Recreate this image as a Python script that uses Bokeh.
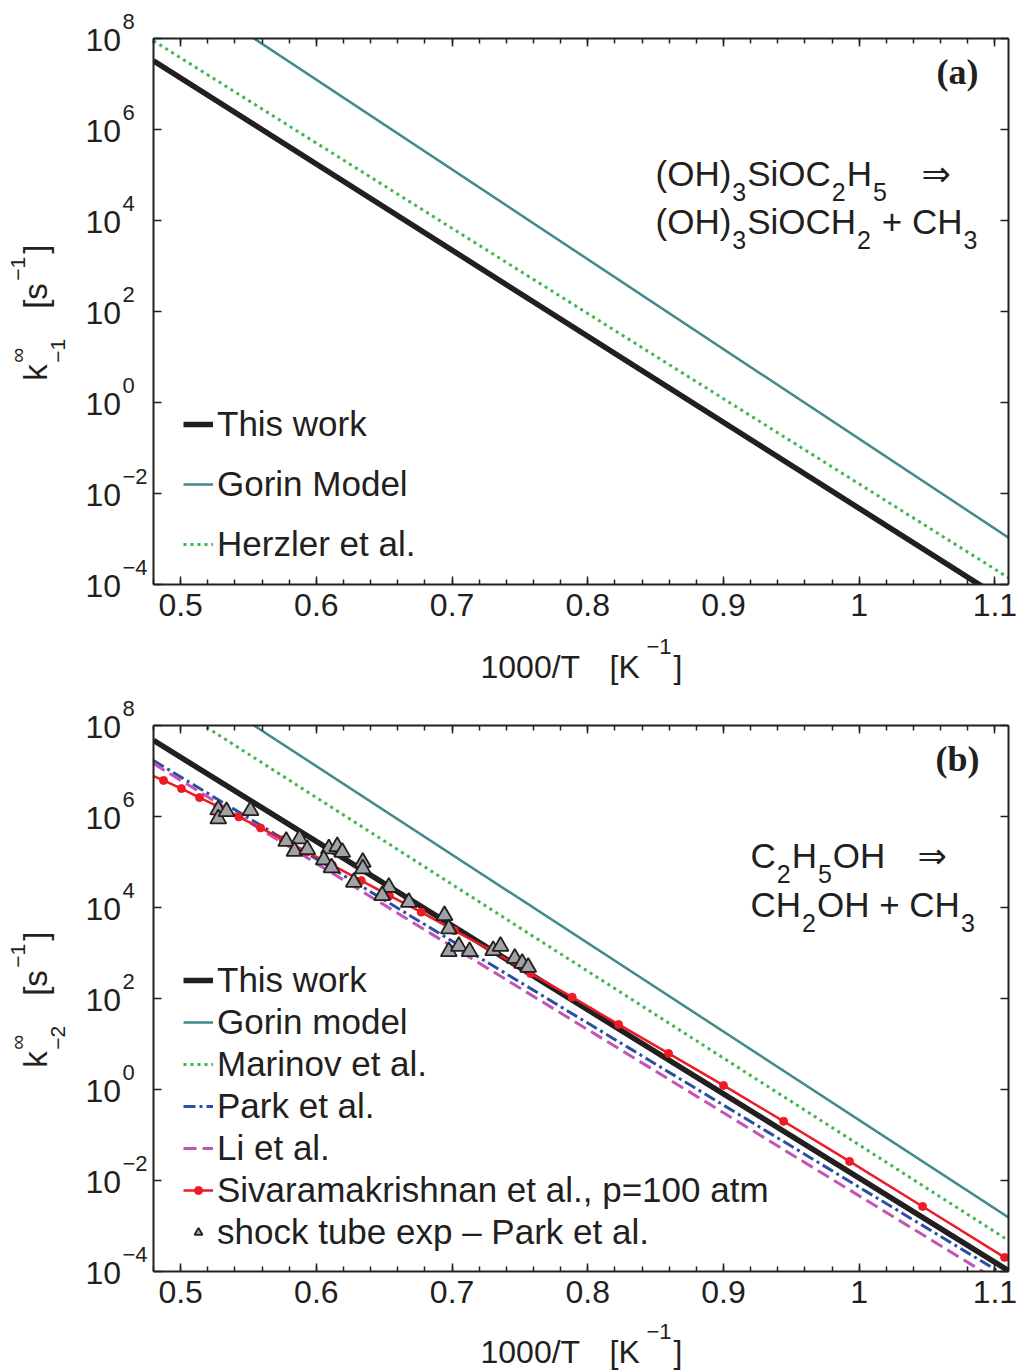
from bokeh.plotting import figure
from bokeh.models import (Range1d, FixedTicker, LinearAxis, LogAxis, Label, Legend,
                          LegendItem, CustomJSTickFormatter)
from bokeh.layouts import column, row
from bokeh.embed import file_html
from bokeh.resources import INLINE

# ---------------- data ----------------
line_x = [0.48, 1.11]                      # 1000/T  [1/K], ends of the straight fits

# panel (a): (OH)3SiOC2H5 -> (OH)3SiOCH2 + CH3
a_this_work = [3.24e7, 3.9e-5]
a_gorin = [2.9e9, 1.07e-3]
a_herzler = [8.9e7, 1.41e-4]

# panel (b): C2H5OH -> CH2OH + CH3
b_this_work = [4.7e7, 1.04e-4]
b_gorin = [2.75e9, 1.55e-3]
b_marinov = [5.1e8, 4.8e-4]
b_park = [1.7e7, 7.4e-5]
b_li = [1.45e7, 4.5e-5]

siva_x = [0.4741, 0.4874, 0.5006, 0.5139, 0.5274, 0.5429, 0.5589, 0.5755, 0.5932,
          0.6118, 0.6331, 0.6539, 0.6773, 0.7018, 0.7283, 0.7578, 0.7885, 0.8227,
          0.8595, 0.9000, 0.9443, 0.9929, 1.0467, 1.1071]
siva_k = [9.3e6, 6.2e6, 4.1e6, 2.6e6, 1.66e6, 9.8e5, 5.6e5, 3.1e5, 1.66e5,
          8.5e4, 3.9e4, 1.82e4, 7.9e3, 3.1e3, 1.17e3, 355, 107, 26.9,
          6.2, 1.23, 0.20, 0.0263, 2.69e-3, 2.04e-4]

shock_x = [0.5277, 0.5277, 0.5338, 0.5515, 0.5778, 0.5876, 0.5839, 0.5933, 0.6092,
           0.6154, 0.6191, 0.6055, 0.6112, 0.6342, 0.6342, 0.6276, 0.6534, 0.6485,
           0.6681, 0.6944, 0.6976, 0.6976, 0.7050, 0.7129, 0.7303, 0.7357, 0.7462,
           0.7517, 0.7561]
shock_k = [1.40e6, 8.9e5, 1.29e6, 1.36e6, 2.86e5, 3.24e5, 1.73e5, 1.88e5, 1.95e5,
           2.19e5, 1.64e5, 1.12e5, 7.5e4, 9.9e4, 7.1e4, 3.6e4, 2.79e4, 1.84e4,
           1.31e4, 6.7e3, 3.4e3, 1.08e3, 1.41e3, 1.08e3, 1.14e3, 1.41e3, 769,
           597, 488]

x_ticks = [0.5, 0.6, 0.7, 0.8, 0.9, 1.0, 1.1]
x_minor = [round(0.48 + 0.02 * i, 2) for i in range(32)]
y_tick_exps = [-4, -2, 0, 2, 4, 6, 8]

# ---------------- styling / geometry ----------------
INK = "#231f20"
FONT = "Liberation Sans"
W = 1017
STRIP_W = 149            # left text strip
MAIN_W = W - STRIP_W
FRAME_L, FRAME_W, FRAME_H = 153, 855, 546   # page coordinates of the plot frame
XMIN, XMAX = 0.48, 1.11
LMIN, LMAX = -4, 8
BASE_K = 0.36            # label anchor -> alphabetic baseline correction (em)

AW = {' ': 278, '(': 333, ')': 333, 'O': 778, 'H': 722, 'S': 667, 'i': 222, 'C': 722,
      '+': 584, '/': 278, 'T': 611, '[': 278, ']': 278, 'K': 667, 's': 500, 'k': 500,
      '\u2212': 584}
for d in "0123456789":
    AW[d] = 556


def tw(s, size):
    return sum(AW.get(c, 556) for c in s) / 1000.0 * size


def label(p, x, y, text, size, font=FONT, style="normal", angle=0, align="left"):
    p.add_layout(Label(x=x, y=y, text=text, text_font=font,
                       text_font_size=f"{size}px", text_color=INK,
                       text_font_style=style, angle=angle, angle_units="deg",
                       text_align=align, text_baseline="alphabetic"))


def put_frame(p, ftop, px, py, text, size, **kw):
    """text whose baseline starts at page pixel (px, py), inside a plot frame"""
    py = py - BASE_K * size
    x = XMIN + (px - FRAME_L) / FRAME_W * (XMAX - XMIN)
    y = 10 ** (LMAX - (py - ftop) / FRAME_H * (LMAX - LMIN))
    label(p, x, y, text, size, **kw)


def put_strip(s, x0, y0, px, py, text, size, angle=0, **kw):
    """text in a pixel-unit strip figure whose top-left sits at page (x0, y0)"""
    if angle == 90:
        px = px - BASE_K * size
    else:
        py = py - BASE_K * size
    label(s, px - x0, py - y0, text, size, angle=angle, **kw)


def rich(p, ftop, px, py, segs, main=35, script=25, sub_dy=14, pad=2):
    x = px
    for txt, kind in segs:
        if kind == "n":
            lead = len(txt) - len(txt.lstrip(" "))
            x += tw(" " * lead, main)
            txt = txt.strip(" ")
            put_frame(p, ftop, x, py, txt, main)
            x += tw(txt, main)
        else:
            put_frame(p, ftop, x + 1, py + sub_dy, txt, script)
            x += tw(txt, script) + pad
    return x


def strip(w, h):
    s = figure(width=w, height=h, x_range=Range1d(0, w), y_range=Range1d(h, 0),
               x_axis_location=None, y_axis_location=None,
               output_backend="svg", toolbar_location=None,
               min_border=0, min_border_left=0, min_border_right=0,
               min_border_top=0, min_border_bottom=0)
    try:
        s.frame_align = False
    except Exception:
        pass
    s.outline_line_color = None
    s.grid.visible = False
    s.background_fill_color = "white"
    s.border_fill_color = "white"
    return s


def style_axis(ax, ticker, labels=False):
    ax.ticker = ticker
    ax.axis_line_color = INK
    ax.axis_line_width = 2
    ax.major_tick_line_color = INK
    ax.major_tick_line_width = 1.5
    ax.minor_tick_line_color = INK
    ax.minor_tick_line_width = 1.5
    ax.major_tick_in = 8
    ax.major_tick_out = 0
    ax.minor_tick_in = 5
    ax.minor_tick_out = 0
    if labels:
        ax.formatter = CustomJSTickFormatter(code="return (Math.round(tick*10)/10).toString();")
        ax.major_label_text_font = FONT
        ax.major_label_text_font_size = "32px"
        ax.major_label_text_color = INK
        ax.major_label_standoff = 9
    else:
        ax.formatter = CustomJSTickFormatter(code="return '';")
        ax.major_label_standoff = 0
        ax.major_label_text_font_size = "1px"


def make_panel(height, top):
    p = figure(width=MAIN_W, height=height, x_range=Range1d(XMIN, XMAX),
               y_range=Range1d(10.0 ** LMIN, 10.0 ** LMAX), y_axis_type="log",
               x_axis_location=None, y_axis_location=None,
               output_backend="svg", toolbar_location=None,
               min_border_left=FRAME_L - STRIP_W, min_border_right=W - FRAME_L - FRAME_W,
               min_border_top=top, min_border_bottom=height - top - FRAME_H)
    p.outline_line_color = None
    p.background_fill_color = "white"
    p.border_fill_color = "white"
    p.grid.visible = False
    xt = FixedTicker(ticks=x_ticks, minor_ticks=x_minor)
    yt = FixedTicker(ticks=[10.0 ** e for e in y_tick_exps], minor_ticks=[])
    bx = LinearAxis(); style_axis(bx, xt, labels=True); p.add_layout(bx, "below")
    tx = LinearAxis(); style_axis(tx, xt); p.add_layout(tx, "above")
    ly = LogAxis(); style_axis(ly, yt); p.add_layout(ly, "left")
    ry = LogAxis(); style_axis(ry, yt); p.add_layout(ry, "right")
    return p


def left_strip(h, y0, ftop, sub):
    s = strip(STRIP_W, h)
    # y tick labels 10^n
    for e in y_tick_exps:
        py = ftop + (LMAX - e) / (LMAX - LMIN) * FRAME_H
        put_strip(s, 0, y0, 85, py + 13.5, "10", 32)
        put_strip(s, 0, y0, 122, py - 9, str(e).replace("-", "\u2212"), 22)
    # rotated axis label  k^inf_{-n} [s^-1]
    cy = ftop + FRAME_H / 2
    yk = cy + 69.3
    put_strip(s, 0, y0, 47, yk, "k", 33, angle=90)
    put_strip(s, 0, y0, 25, yk - 18, "\u221e", 21, angle=90)
    put_strip(s, 0, y0, 65, yk - 18, sub, 21, angle=90)
    put_strip(s, 0, y0, 47, yk - 72, "[s", 33, angle=90)
    put_strip(s, 0, y0, 25, yk - 100, "\u22121", 21, angle=90)
    put_strip(s, 0, y0, 47, yk - 127, "]", 33, angle=90)
    return s


def x_strip(h, y0, base):
    s = strip(W, h)
    cx = FRAME_L + FRAME_W / 2
    put_strip(s, 0, y0, cx - 100.5, base, "1000/T", 32)
    put_strip(s, 0, y0, cx + 28.5, base, "[K", 32)
    put_strip(s, 0, y0, cx + 65.5, base - 24, "\u22121", 22)
    put_strip(s, 0, y0, cx + 92.5, base, "]", 32)
    return s


def legend(p, items, spacing, y):
    leg = Legend(items=items, location=(30, y), label_text_font=FONT,
                 label_text_font_size="35px", label_text_color=INK,
                 glyph_width=30, glyph_height=20, label_height=40, label_standoff=4,
                 spacing=spacing, padding=0, margin=0, border_line_color=None,
                 background_fill_alpha=0)
    p.add_layout(leg)


TEAL = "#418a89"
GREEN = "#3cb84f"
BLUE = "#2d4fa3"
MAGENTA = "#c254b5"
RED = "#ed1c24"
TRI = "#a0a2a6"

# ---------------- panel (a) ----------------
HA, TOP_A = 632, 38
XA_H = 58
pa = make_panel(HA, TOP_A)
ra1 = pa.line(line_x, a_this_work, line_color=INK, line_width=5.5)
ra2 = pa.line(line_x, a_gorin, line_color=TEAL, line_width=2.5)
ra3 = pa.line(line_x, a_herzler, line_color=GREEN, line_width=3, line_dash="3 4")
legend(pa, [LegendItem(label="This work", renderers=[ra1]),
            LegendItem(label="Gorin Model", renderers=[ra2]),
            LegendItem(label="Herzler et al.", renderers=[ra3])], 20, 20)
put_frame(pa, TOP_A, 957, 84, "(a)", 36, font="Liberation Serif", style="bold", align="center")
rich(pa, TOP_A, 655, 186, [("(OH)", "n"), ("3", "s"), ("SiOC", "n"), ("2", "s"),
                           ("H", "n"), ("5", "s")])
put_frame(pa, TOP_A, 921, 186, "\u21d2", 35, font="DejaVu Sans")
rich(pa, TOP_A, 655, 234, [("(OH)", "n"), ("3", "s"), ("SiOCH", "n"), ("2", "s"),
                           (" + CH", "n"), ("3", "s")])
la = left_strip(HA, 0, TOP_A, "\u22121")
xa = x_strip(XA_H, HA, 678)

# ---------------- panel (b) ----------------
Y_B = HA + XA_H             # 690
HB, TOP_B = 627, 35
FT_B = Y_B + TOP_B          # page y of frame top (725)
pb = make_panel(HB, TOP_B)
rb1 = pb.line(line_x, b_this_work, line_color=INK, line_width=5.5)
rb2 = pb.line(line_x, b_gorin, line_color=TEAL, line_width=2.5)
rb3 = pb.line(line_x, b_marinov, line_color=GREEN, line_width=3, line_dash="3 4")
rb4 = pb.line(line_x, b_park, line_color=BLUE, line_width=3, line_dash="12 4 3 4")
rb5 = pb.line(line_x, b_li, line_color=MAGENTA, line_width=3, line_dash="13 6")
rb6 = pb.line(siva_x, siva_k, line_color=RED, line_width=2.5)
rb6m = pb.scatter(siva_x, siva_k, marker="circle", size=8, fill_color=RED, line_color=RED)
rb7 = pb.scatter(shock_x, shock_k, marker="triangle", size=16, fill_color=TRI,
                 line_color=INK, line_width=1.8)
legend(pb, [LegendItem(label="This work", renderers=[rb1]),
            LegendItem(label="Gorin model", renderers=[rb2]),
            LegendItem(label="Marinov et al.", renderers=[rb3]),
            LegendItem(label="Park et al.", renderers=[rb4]),
            LegendItem(label="Li et al.", renderers=[rb5]),
            LegendItem(label="Sivaramakrishnan et al., p=100 atm", renderers=[rb6, rb6m]),
            LegendItem(label="shock tube exp \u2013 Park et al.", renderers=[rb7])], 2, 19)
put_frame(pb, FT_B, 957, 771, "(b)", 36, font="Liberation Serif", style="bold",
          align="center")
rich(pb, FT_B, 750, 868, [("C", "n"), ("2", "s"), ("H", "n"), ("5", "s"), ("OH", "n")])
put_frame(pb, FT_B, 917, 868, "\u21d2", 35, font="DejaVu Sans")
rich(pb, FT_B, 750, 917, [("CH", "n"), ("2", "s"), ("OH + CH", "n"), ("3", "s")])
lb = left_strip(HB, Y_B, FT_B, "\u22122")
xb = x_strip(1372 - Y_B - HB, Y_B + HB, 1363)

layout = column(row(la, pa, spacing=0), xa, row(lb, pb, spacing=0), xb, spacing=0)
open("out.html", "w").write(file_html(layout, INLINE))
